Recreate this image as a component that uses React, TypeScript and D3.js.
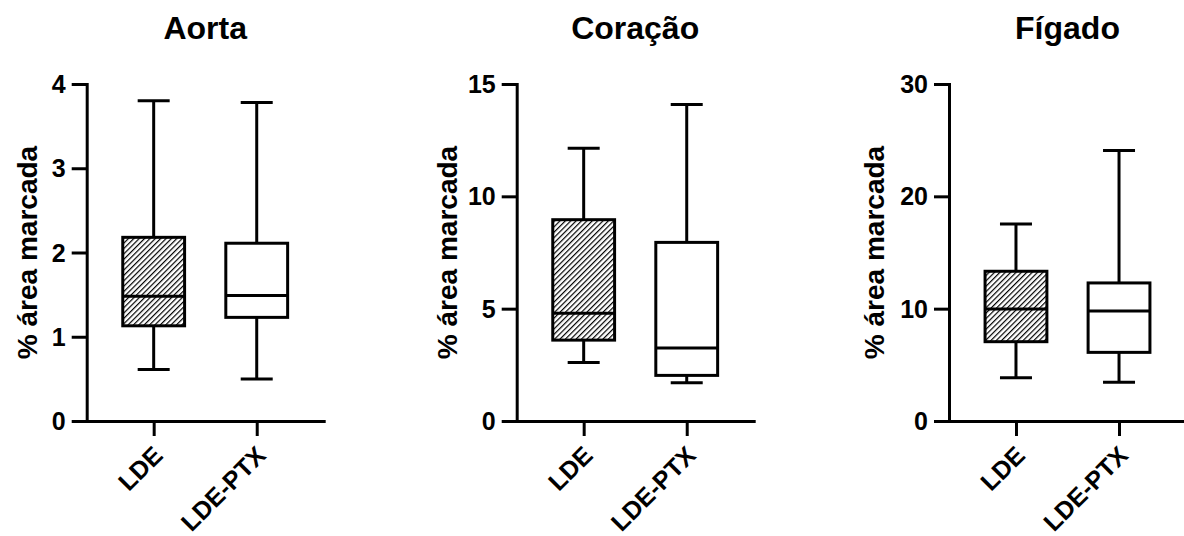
import React, { useEffect, useRef } from "react";
import * as d3 from "d3";

// groups on the x axis
const groups = ["LDE", "LDE-PTX"];
const titles = ["Aorta", "Coração", "Fígado"];
const yLabel = "% área marcada";

// [min, q1, median, q3, max]
const aortaLDE = [0.61, 1.13, 1.48, 2.18, 3.8];
const aortaPTX = [0.5, 1.23, 1.49, 2.11, 3.78];
const coracaoLDE = [2.6, 3.6, 4.8, 8.96, 12.14];
const coracaoPTX = [1.7, 2.03, 3.25, 7.95, 14.09];
const figadoLDE = [3.86, 7.06, 9.97, 13.33, 17.54];
const figadoPTX = [3.45, 6.11, 9.79, 12.29, 24.07];

const yMaxes = [4, 15, 30];
const aortaTicks = [0, 1, 2, 3, 4];
const coracaoTicks = [0, 5, 10, 15];
const figadoTicks = [0, 10, 20, 30];

const layout = {
  width: 1184,
  height: 536,
  top: 84,
  bottom: 421,
  axisX: [86.7, 516.7, 949],
  labelOffset: [-50, -59.5, -64.7],
  plotW: 237,
  font: "'Liberation Sans', Arial, Helvetica, sans-serif",
};

export default function App() {
  const ref = useRef<SVGSVGElement>(null);

  useEffect(() => {
    const root = d3.select(ref.current);
    root.selectAll("*").remove();

    // hatch pattern for LDE boxes
    root
      .append("defs")
      .append("pattern")
      .attr("id", "hatch")
      .attr("patternUnits", "userSpaceOnUse")
      .attr("width", 3.8)
      .attr("height", 3.8)
      .attr("patternTransform", "rotate(45)")
      .append("line")
      .attr("x1", 0.6)
      .attr("y1", 0)
      .attr("x2", 0.6)
      .attr("y2", 3.8)
      .attr("stroke", "#000")
      .attr("stroke-width", 1.2);

    const panels = [
      { stats: [aortaLDE, aortaPTX], ticks: aortaTicks },
      { stats: [coracaoLDE, coracaoPTX], ticks: coracaoTicks },
      { stats: [figadoLDE, figadoPTX], ticks: figadoTicks },
    ];

    panels.forEach((p, i) => {
      const g = root
        .append("g") // panel group
        .attr("transform", `translate(${layout.axisX[i]},0)`);

      const xScale = d3
        .scalePoint<string>()
        .domain(groups)
        .range([0, layout.plotW])
        .padding(0.65);
      const yScale = d3
        .scaleLinear()
        .domain([0, yMaxes[i]])
        .range([layout.bottom, layout.top]);

      const step = xScale.step();
      const boxW = step * 0.6;
      const capW = 32;

      // boxes
      p.stats.forEach((s, j) => {
        const cx = xScale(groups[j]) ?? 0;
        const [mn, q1, md, q3, mx] = s;
        const bg = g.append("g").attr("stroke", "#000").attr("stroke-width", 3);
        bg.append("line")
          .attr("x1", cx)
          .attr("x2", cx)
          .attr("y1", yScale(mx))
          .attr("y2", yScale(q3));
        bg.append("line")
          .attr("x1", cx)
          .attr("x2", cx)
          .attr("y1", yScale(q1))
          .attr("y2", yScale(mn));
        [mn, mx].forEach((v) => {
          bg.append("line")
            .attr("x1", cx - capW / 2)
            .attr("x2", cx + capW / 2)
            .attr("y1", yScale(v))
            .attr("y2", yScale(v));
        });
        bg.append("rect")
          .attr("x", cx - boxW / 2)
          .attr("y", yScale(q3))
          .attr("width", boxW)
          .attr("height", yScale(q1) - yScale(q3))
          .attr("fill", j === 0 ? "url(#hatch)" : "#fff");
        bg.append("line")
          .attr("x1", cx - boxW / 2)
          .attr("x2", cx + boxW / 2)
          .attr("y1", yScale(md))
          .attr("y2", yScale(md));
      });

      // y axis
      const yAxis = g
        .append("g")
        .attr("class", "axis axis__y")
        .call(
          d3
            .axisLeft(yScale)
            .tickValues(p.ticks)
            .tickSize(15)
            .tickSizeOuter(0)
            .tickPadding(6)
            .tickFormat(d3.format("d")) as any
        );
      // x axis
      const xAxis = g
        .append("g")
        .attr("class", "axis axis__x")
        .attr("transform", `translate(0,${layout.bottom})`)
        .call(d3.axisBottom(xScale).tickSize(15).tickSizeOuter(0) as any);

      [yAxis, xAxis].forEach((ax) => {
        ax.select(".domain")
          .attr("stroke-width", 3)
          .attr("stroke-linecap", "square");
        ax.selectAll(".tick line").attr("stroke-width", 3);
        ax.selectAll("text")
          .attr("fill", "#000")
          .attr("font-family", layout.font)
          .attr("font-weight", "bold");
      });
      yAxis.selectAll("text").attr("font-size", 25).attr("dy", "0.34em");
      xAxis
        .selectAll("text")
        .attr("font-size", 25)
        .attr("x", 0)
        .attr("y", 0)
        .attr("dy", null)
        .attr("text-anchor", "end")
        .attr("transform", "translate(10,36) rotate(-45)");

      // title
      g.append("text")
        .attr("x", layout.plotW / 2)
        .attr("y", 39)
        .attr("text-anchor", "middle")
        .attr("font-family", layout.font)
        .attr("font-weight", "bold")
        .attr("font-size", 32)
        .text(titles[i]);

      // y label
      g.append("text")
        .attr(
          "transform",
          `translate(${layout.labelOffset[i]},${(layout.top + layout.bottom) / 2}) rotate(-90)`
        )
        .attr("text-anchor", "middle")
        .attr("font-family", layout.font)
        .attr("font-weight", "bold")
        .attr("font-size", 28)
        .text(yLabel);
    });
  }, []);

  return (
    <svg
      ref={ref}
      width={layout.width}
      height={layout.height}
      style={{ position: "absolute", left: 0, top: 0, background: "#fff" }}
    />
  );
}
